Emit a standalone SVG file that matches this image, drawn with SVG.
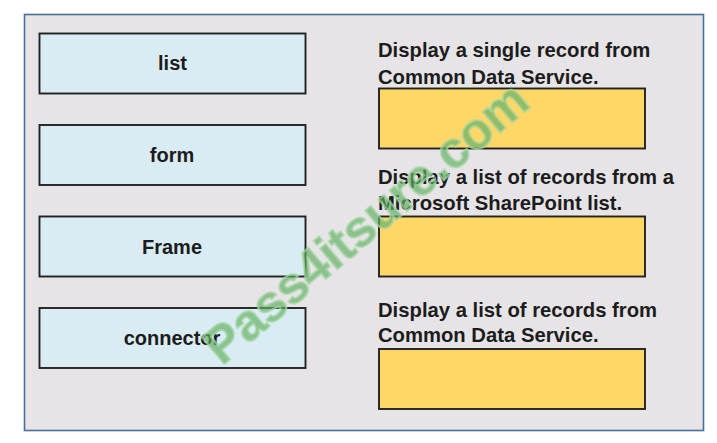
<svg xmlns="http://www.w3.org/2000/svg" width="717" height="443" viewBox="0 0 717 443">
<style>
text{font-family:"Liberation Sans",Arial,sans-serif;font-weight:bold;fill:#1c1c1c}
.b{fill:#daecf3;stroke:#222;stroke-width:1.9}
.y{fill:#ffd766;stroke:#222;stroke-width:1.9}
.l{font-size:20px;text-anchor:middle}
.d{font-size:20.250px}
.w{font-size:51px;fill:#62b062;fill-opacity:.68;stroke:#a5d6a5;stroke-opacity:.7;stroke-width:2.200;text-anchor:middle}
</style>
<rect width="717" height="443" fill="#fff"/>
<rect id="panel" x="24.5" y="14.5" width="679" height="416" fill="#e6e4e6" stroke="#47709a" stroke-width="1.6"/>
<g id="node-list"><rect class="b" x="39.5" y="33.5" width="266" height="60"/><text class="l" x="172.500" y="70">list</text></g>
<g id="node-form"><rect class="b" x="39.500" y="125" width="266" height="60"/><text class="l" x="172" y="162">form</text></g>
<g id="node-frame"><rect class="b" x="39.500" y="216.500" width="266" height="60"/><text class="l" x="172" y="254">Frame</text></g>
<g id="node-connector"><rect class="b" x="39.500" y="308" width="266" height="60"/><text class="l" x="172" y="345">connector</text></g>
<g id="target-1"><text class="d" x="378" y="57">Display a single record from</text><text class="d" x="378" y="84">Common Data Service.</text><rect class="y" x="379" y="88.500" width="266" height="60"/></g>
<g id="target-2"><text class="d" x="378" y="184">Display a list of records from a</text><text class="d" x="378" y="210">Microsoft SharePoint list.</text><rect class="y" x="379" y="216.500" width="266" height="60"/></g>
<g id="target-3"><text class="d" x="378" y="317">Display a list of records from</text><text class="d" x="378" y="342">Common Data Service.</text><rect class="y" x="379" y="349" width="266" height="60"/></g>
<g id="connectors"/>
<text class="w" transform="translate(377 236) rotate(-40)" x="0" y="0">Pass4itsure.com</text>
</svg>
